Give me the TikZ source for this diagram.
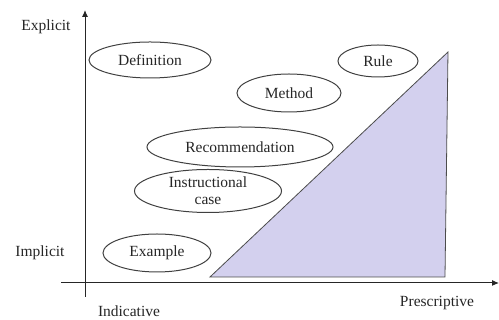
\documentclass[tikz,border=0pt]{standalone}
\usepackage{fontspec}
\setmainfont{Liberation Serif}
\usetikzlibrary{shapes.geometric,arrows.meta}
\definecolor{lav}{RGB}{211,208,238}

\begin{document}
\begin{tikzpicture}[x=1pt,y=1pt,
    txt/.style={text=black!85,font=\fontsize{15.5}{16}\selectfont},
    kind/.style={txt,ellipse,draw=black!75,line width=1pt,inner sep=0pt,align=center}]
    \useasboundingbox (0,0) rectangle (499,320);
    % the triangle
    \draw[fill=lav,draw=black!70,line width=0.8pt] (210,43) -- (448,268) -- (445,43) -- cycle;
    % axes
    \coordinate (o1) at (85,23);
    \coordinate (top) at (85,310);
    \coordinate (o2) at (61,37);
    \coordinate (right) at (499,37);
    \draw[-{Latex[length=7pt,width=6pt]},line width=1pt,black!85] (o1) -- (top);
    \draw[-{Latex[length=7pt,width=6pt]},line width=1pt,black!85] (o2) -- (right);
    \node[txt] (ex) at (46,293) {Explicit};
    \node[txt] (im) at (40,67) {Implicit};
    \node[txt,anchor=base] (ind) at (129,3.5) {Indicative};
    \node[txt] (pre) at (437,17) {Prescriptive};
    % knowledge kinds
    \node[kind,minimum width=122,minimum height=36] (def) at (150,260) {Definition};
    \node[kind,minimum width=80,minimum height=32] (rule) at (378,259) {Rule};
    \node[kind,minimum width=104,minimum height=38] (meth) at (289,227) {Method};
    \node[kind,minimum width=186,minimum height=40] (rec) at (240,173) {Recommendation};
    \node[kind,minimum width=147,minimum height=43,font=\fontsize{15.5}{17}\selectfont] (case) at (208,129) {Instructional\\case};
    \node[kind,minimum width=108,minimum height=38] (exa) at (157,67) {Example};
\end{tikzpicture}
\end{document}
